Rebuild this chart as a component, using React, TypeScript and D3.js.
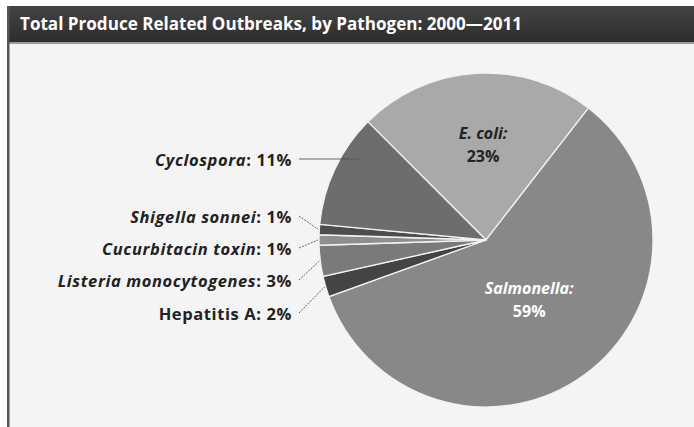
import React from "react";
import * as d3 from "d3";

const title = "Total Produce Related Outbreaks, by Pathogen: 2000\u20142011";
const categories = [
  "E. coli",
  "Salmonella",
  "Hepatitis A",
  "Listeria monocytogenes",
  "Cucurbitacin toxin",
  "Shigella sonnei",
  "Cyclospora",
];
const values = [23, 59, 2, 3, 1, 1, 11];
const italicNames = [true, true, false, true, true, true, true];
const sliceColors = ["#a9a9a9", "#888888", "#444444", "#7a7a7a", "#8e8e8e", "#4d4d4d", "#6d6d6d"];

const W = 694;
const H = 427;
const cx = 486;
const cy = 240;
const R = 167;

// outside label layout (index into categories -> baseline y)
const outsideLabels: { idx: number; y: number; dashed: boolean }[] = [
  { idx: 6, y: 166, dashed: false },
  { idx: 5, y: 223, dashed: true },
  { idx: 4, y: 255, dashed: true },
  { idx: 3, y: 287, dashed: true },
  { idx: 2, y: 320, dashed: true },
];

export default function App() {
  const pie = d3
    .pie<number>()
    .sort(null)
    .value((d) => d)
    .startAngle(-Math.PI / 4)
    .endAngle(-Math.PI / 4 + 2 * Math.PI);
  const arcs = pie(values);
  const arc = d3.arc<d3.PieArcDatum<number>>().innerRadius(0).outerRadius(R);
  const inLabel = d3.arc<d3.PieArcDatum<number>>().innerRadius(R * 0.57).outerRadius(R * 0.57);

  const polar = (a: number, r: number) => [cx + r * Math.sin(a), cy - r * Math.cos(a)];

  const fontFam = "'Open Sans', Lato, sans-serif";
  const labelX = 292;

  const ecoli = arcs[0];
  const salm = arcs[1];
  const [ex, ey] = inLabel.centroid(ecoli);
  const sArc = d3.arc<d3.PieArcDatum<number>>().innerRadius(R * 0.44).outerRadius(R * 0.44);
  const [sx, sy] = sArc.centroid(salm);

  return (
    <svg
      width={W}
      height={H}
      style={{ position: "absolute", left: 0, top: 0, background: "#ffffff" }}
    >
      <rect x={8} y={43} width={W - 8} height={H - 43} fill="#f4f4f4" />
      <defs>
        <linearGradient id="tb" x1="0" x2="0" y1="0" y2="1">
          <stop offset="0" stopColor="#444" />
          <stop offset="1" stopColor="#2c2c2c" />
        </linearGradient>
      </defs>
      <rect x={8} y={6} width={W - 8} height={37} fill="url(#tb)" />
      <rect x={8} y={42} width={W - 8} height={2} fill="#9a9a9a" />
      <rect x={7} y={6} width={2.5} height={H - 6} fill="#555" />
      <text
        x={20}
        y={30}
        fill="#ffffff"
        fontFamily={fontFam}
        fontWeight={700}
        fontSize={17}
        textLength={502}
        lengthAdjust="spacingAndGlyphs"
      >
        {title}
      </text>

      <g transform={`translate(${cx},${cy})`}>
        {arcs.map((a, i) => (
          <path key={i} d={arc(a) || ""} fill={sliceColors[i]} stroke="#f2f2f2" strokeWidth={1.3} />
        ))}
      </g>

      <text x={cx + ex + 3} y={cy + ey - 6} textAnchor="middle" fontFamily={fontFam} fontWeight={700} fontSize={16} fill="#222">
        <tspan fontStyle="italic">{categories[0]}:</tspan>
        <tspan x={cx + ex + 3} dy={23}>{values[0]}%</tspan>
      </text>
      <text x={cx + sx} y={cy + sy - 5} textAnchor="middle" fontFamily={fontFam} fontWeight={700} fontSize={16} fill="#ffffff">
        <tspan fontStyle="italic">{categories[1]}:</tspan>
        <tspan x={cx + sx} dy={23}>{values[1]}%</tspan>
      </text>

      {outsideLabels.map((l, k) => {
        const a = arcs[l.idx];
        const mid = (a.startAngle + a.endAngle) / 2;
        const ly = l.y - 7;
        let end: number[];
        if (!l.dashed) {
          const r2 = R * 0.9;
          const dy = ly - cy;
          end = [cx - Math.sqrt(r2 * r2 - dy * dy), ly];
        } else {
          end = polar(mid, R + 1);
        }
        return (
          <g key={k}>
            <line
              x1={labelX + 7}
              y1={ly}
              x2={end[0]}
              y2={end[1]}
              stroke="#555"
              strokeWidth={0.9}
              strokeDasharray={l.dashed ? "2 1.2" : undefined}
            />
            <text x={labelX} y={l.y} textAnchor="end" fontFamily={fontFam} fontWeight={700} fontSize={16.5} letterSpacing={0.6} fill="#222">
              <tspan fontStyle={italicNames[l.idx] ? "italic" : "normal"}>{categories[l.idx]}</tspan>
              <tspan>: {values[l.idx]}%</tspan>
            </text>
          </g>
        );
      })}
    </svg>
  );
}
